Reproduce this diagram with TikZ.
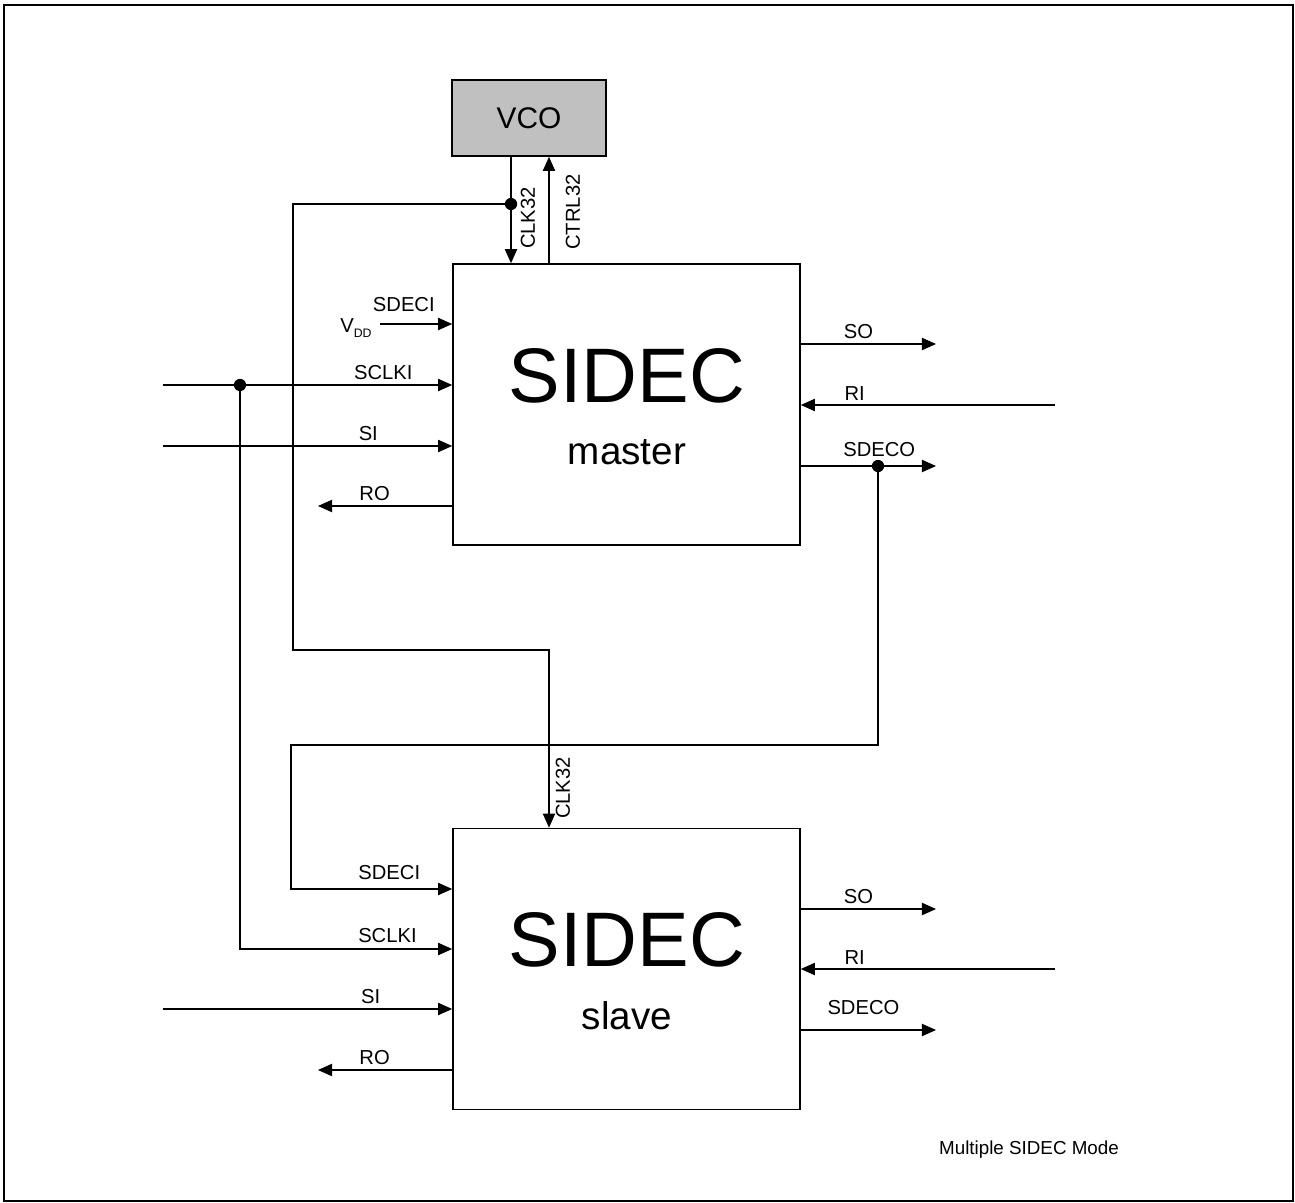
\documentclass[tikz,border=0pt]{standalone}
\usepackage{fontspec}
\setmainfont{Liberation Sans}
\usetikzlibrary{arrows.meta}
\definecolor{vcogray}{HTML}{C0C0C0}

\begin{document}
\begin{tikzpicture}[x=0.02cm, y=-0.02cm]

\tikzset{sidecbox/.style={draw, line width=1pt, rectangle, inner sep=0pt, minimum width=6.94cm, minimum height=5.62cm}}
\tikzset{vcobox/.style={draw, line width=1pt, rectangle, fill=vcogray, minimum width=3.08cm, minimum height=1.52cm, font=\fontsize{17}{20}\selectfont}}
\tikzset{sig/.style={line width=0.6pt, -{Triangle[length=8pt, width=7pt]}}}
\tikzset{siglabel/.style={font=\fontsize{11.5}{13}\selectfont, inner sep=0pt, anchor=south, yshift=2.5pt}}
\tikzset{vlabel/.style={font=\fontsize{11.5}{13}\selectfont, inner sep=0pt, rotate=90}}
\tikzset{junction/.style={circle, fill, inner sep=0pt, minimum size=7pt}}

% page frame
\useasboundingbox (0,0) rectangle (1295,1203);
\draw[line width=1.2pt] (4,5) rectangle (1293,1201);

% VCO, master, slave
\node[vcobox] at (529, 118) (vco) {VCO};
\node[sidecbox] at (626.5, 404.5) (master) {};
\node[sidecbox] at (626.5, 969) (slave) {};

\node[font=\fontsize{44}{50}\selectfont, inner sep=0pt] at (627, 376) (mname) {SIDEC};
\node[font=\fontsize{22}{26}\selectfont, inner sep=0pt] at (627, 452) (mrole) {master};
\node[font=\fontsize{44}{50}\selectfont, inner sep=0pt] at (627, 940) (sname) {SIDEC};
\node[font=\fontsize{22}{26}\selectfont, inner sep=0pt] at (627, 1016) (srole) {slave};

% junctions
\node[junction] at (511, 204) (jclk) {};
\node[junction] at (240, 385) (jsclk) {};
\node[junction] at (878, 466) (jsdeco) {};

% free ends and bends
\coordinate (vdd) at (380, 324);
\coordinate (m-sclk) at (163, 385);
\coordinate (m-si) at (163, 446);
\coordinate (m-ro) at (318, 506);
\coordinate (m-so) at (936, 344);
\coordinate (m-ri) at (1055, 405);
\coordinate (m-sdeco) at (936, 466);
\coordinate (clkleft) at (293, 204);
\coordinate (clkturn) at (549, 650);
\coordinate (sdecleft) at (291, 745);
\coordinate (s-sdeci) at (291, 889);
\coordinate (s-sclk) at (240, 949);
\coordinate (s-si) at (163, 1009);
\coordinate (s-ro) at (318, 1070);
\coordinate (s-so) at (936, 909);
\coordinate (s-ri) at (1055, 969);
\coordinate (s-sdeco) at (936, 1030);

% VCO links
\draw[sig] (vco.south -| jclk) -- (master.north -| jclk);
\draw[sig] (master.north -| clkturn) -- (vco.south -| clkturn);
\node[vlabel] at (528, 218) (clkm) {CLK32};
\node[vlabel] at (573, 212) (ctrlm) {CTRL32};

% master inputs
\node[inner sep=0pt, anchor=base west, font=\fontsize{11.5}{13}\selectfont] at (340, 332) (vddtext) {V\raisebox{-3.4pt}{\fontsize{7}{8}\selectfont DD}};
\draw[sig] (vdd) -- (vdd -| master.west) node[siglabel, pos=0.33, yshift=4.3pt] {SDECI};
\draw[sig] (m-sclk) -- (m-sclk -| master.west) node[siglabel, pos=0.762] {SCLKI};
\draw[sig] (m-si) -- (m-si -| master.west) node[siglabel, pos=0.71] {SI};
\draw[sig] (m-ro -| master.west) -- (m-ro) node[siglabel, pos=0.578] {RO};

% master outputs
\draw[sig] (m-so -| master.east) -- (m-so) node[siglabel, pos=0.426] {SO};
\draw[sig] (m-ri) -- (m-ri -| master.east) node[siglabel, pos=0.788] {RI};
\draw[sig] (m-sdeco -| master.east) -- (m-sdeco) node[siglabel, pos=0.58, yshift=2.5pt] {SDECO};

% master to slave
\draw[sig] (jclk.center) -- (clkleft) |- (clkturn) -- (clkturn |- slave.north);
\node[vlabel] at (563, 788) (clks) {CLK32};
\draw[sig] (jsdeco.center) |- (sdecleft) -- (s-sdeci) -- (s-sdeci -| slave.west) node[siglabel, pos=0.61, yshift=2.5pt] {SDECI};
\draw[sig] (jsclk.center) -- (s-sclk) -- (s-sclk -| slave.west) node[siglabel, pos=0.695, yshift=1pt] {SCLKI};

% slave inputs
\draw[sig] (s-si) -- (s-si -| slave.west) node[siglabel, pos=0.718] {SI};
\draw[sig] (s-ro -| slave.west) -- (s-ro) node[siglabel, pos=0.578] {RO};

% slave outputs
\draw[sig] (s-so -| slave.east) -- (s-so) node[siglabel, pos=0.426] {SO};
\draw[sig] (s-ri) -- (s-ri -| slave.east) node[siglabel, pos=0.788] {RI};
\draw[sig] (s-sdeco -| slave.east) -- (s-sdeco) node[siglabel, pos=0.463, yshift=6pt] {SDECO};

% caption
\node[font=\fontsize{10.7}{12}\selectfont, inner sep=0pt] at (1029, 1150) (caption) {Multiple SIDEC Mode};

\end{tikzpicture}
\end{document}
